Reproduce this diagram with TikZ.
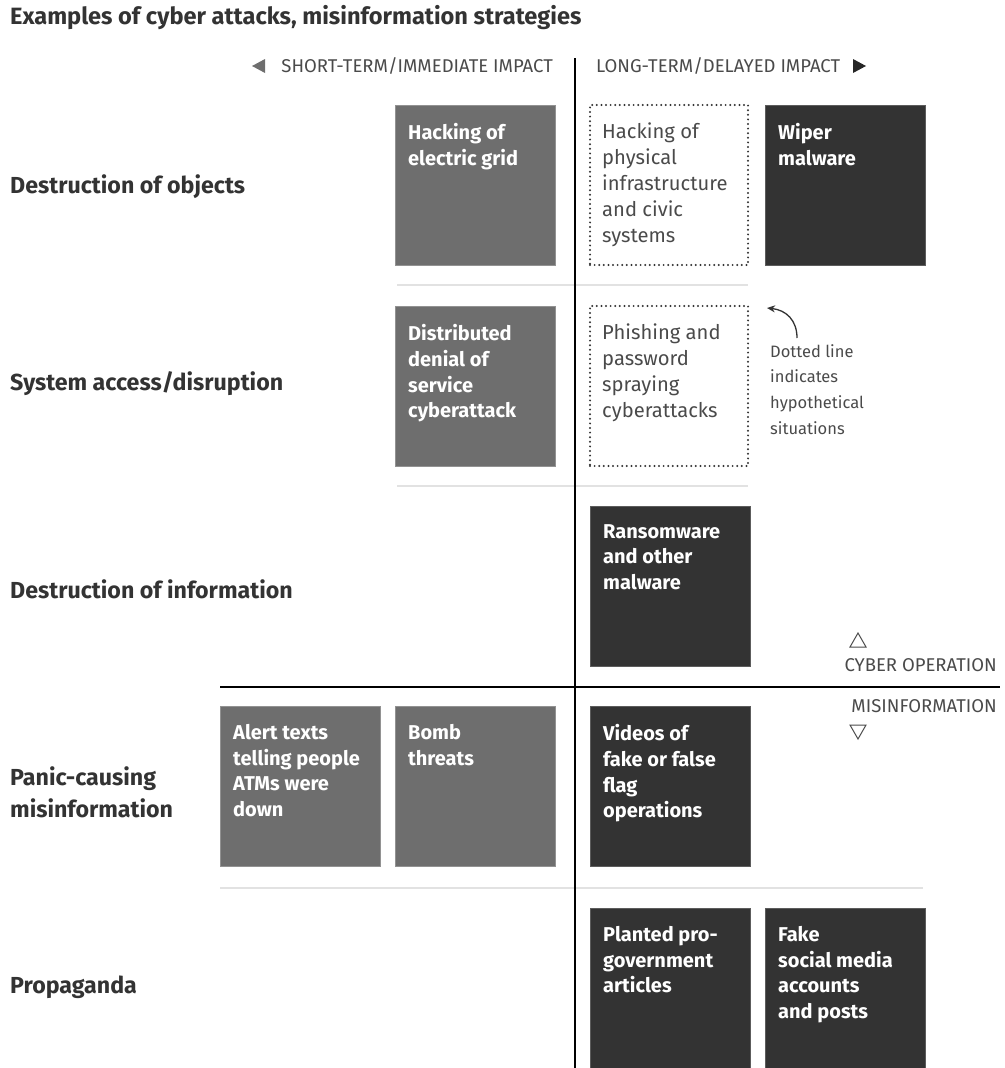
\documentclass[tikz,border=0pt]{standalone}
\usepackage{fontspec}
\setmainfont{Fira Sans}
\usetikzlibrary{arrows.meta}
\definecolor{midg}{HTML}{6E6E6E}
\definecolor{darkg}{HTML}{333333}
\definecolor{txt}{HTML}{333333}
\definecolor{lbl}{HTML}{4A4A4A}
\definecolor{sep}{HTML}{E2E2E2}
\tikzset{
  cell/.style={anchor=north west, minimum width=160pt, minimum height=160pt, inner sep=0pt, outer sep=0pt},
  midbox/.style={cell, fill=midg, draw=midg!75!white, line width=0.8pt},
  darkbox/.style={cell, fill=darkg, draw=darkg!80!white, line width=0.8pt},
  dotbox/.style={cell, minimum width=158pt, draw=darkg, line width=2.2pt, line cap=round, dash pattern=on 0pt off 4.6pt},
  boxtext/.style={anchor=north west, inner sep=0pt, align=left, font=\fontsize{20}{25.8}\selectfont\bfseries, text=white},
  hyptext/.style={anchor=north west, inner sep=0pt, align=left, font=\fontsize{20.2}{25.8}\selectfont, text=lbl},
  rowlbl/.style={anchor=west, inner sep=0pt, align=left, font=\fontsize{23.2}{32}\selectfont\bfseries, text=txt},
  hdr/.style={inner sep=0pt, font=\fontsize{18.5}{20}\selectfont, text=lbl},
  sepline/.style={draw=sep, line width=1.2pt},
  axis/.style={draw=black, line width=2.4pt}
}
\begin{document}
\begin{tikzpicture}[x=1pt,y=-1pt]
\useasboundingbox (0,0) rectangle (1004,1068);
% title
\node[anchor=west, inner sep=0pt, font=\fontsize{23.6}{26}\selectfont\bfseries, text=txt] (title) at (10,18) {Examples of cyber attacks, misinformation strategies};
% headers
\node[hdr, anchor=east] (short) at (553,66) {SHORT-TERM/IMMEDIATE IMPACT};
\node[hdr, anchor=west] (long) at (596,66) {LONG-TERM/DELAYED IMPACT};
\fill[midg] (252,66) -- (265,59) -- (265,73) -- cycle;
\fill[black!85] (866,66) -- (853,59) -- (853,73) -- cycle;
% separators
\draw[sepline] (397,285) -- (748,285);
\draw[sepline] (397,486) -- (748,486);
\draw[sepline] (220,888) -- (923,888);
% row labels
\node[rowlbl] (r1) at (10,187) {Destruction of objects};
\node[rowlbl] (r2) at (10,384) {System access/disruption};
\node[rowlbl] (r3) at (10,589) {Destruction of information};
\node[rowlbl] (r4) at (10,792) {Panic-causing\\misinformation};
\node[rowlbl] (r5) at (10,987) {Propaganda};
% row 1
\node[midbox] (b1) at (395,105) {};
\node[boxtext] (b1t) at ([xshift=13pt,yshift=-18pt]b1.north west) {Hacking of\\electric grid};
\node[dotbox] (c1) at (590,105) {};
\node[hyptext] (c1t) at ([xshift=12pt,yshift=-18pt]c1.north west) {Hacking of\\physical\\infrastructure\\and civic\\systems};
\node[darkbox] (d1) at (765,105) {};
\node[boxtext] (d1t) at ([xshift=13pt,yshift=-18pt]d1.north west) {Wiper\\malware};
% row 2
\node[midbox] (b2) at (395,306) {};
\node[boxtext] (b2t) at ([xshift=13pt,yshift=-18pt]b2.north west) {Distributed\\denial of\\service\\cyberattack};
\node[dotbox] (c2) at (590,306) {};
\node[hyptext] (c2t) at ([xshift=12pt,yshift=-18pt]c2.north west) {Phishing and\\password\\spraying\\cyberattacks};
% note
\node[hyptext, font=\fontsize{16.5}{25.8}\selectfont] (note) at (770,344) {Dotted line\\indicates\\hypothetical\\situations};
\coordinate (noteS) at (797,338);
\coordinate (noteE) at (767,308);
\draw[darkg, line width=1.3pt, -{Stealth[length=8pt,width=7pt]}] (noteS) .. controls (797,320) and (786,310) .. (noteE);
% row 3
\node[darkbox] (c3) at (590,506) {};
\node[boxtext] (c3t) at ([xshift=13pt,yshift=-18pt]c3.north west) {Ransomware\\and other\\malware};
% cyber / misinformation
\draw[lbl, line width=1pt] (850,647) -- (866,647) -- (858,633) -- cycle;
\node[hdr, anchor=east] (cyber) at (997,665) {CYBER OPERATION};
\node[hdr, anchor=east] (misinf) at (997,706) {MISINFORMATION};
\draw[lbl, line width=1pt] (850,725) -- (866,725) -- (858,739) -- cycle;
% row 4
\node[midbox] (a4) at (220,706) {};
\node[boxtext] (a4t) at ([xshift=13pt,yshift=-18pt]a4.north west) {Alert texts\\telling people\\ATMs were\\down};
\node[midbox] (b4) at (395,706) {};
\node[boxtext] (b4t) at ([xshift=13pt,yshift=-18pt]b4.north west) {Bomb\\threats};
\node[darkbox] (c4) at (590,706) {};
\node[boxtext] (c4t) at ([xshift=13pt,yshift=-18pt]c4.north west) {Videos of\\fake or false\\flag\\operations};
% row 5
\node[darkbox] (c5) at (590,908) {};
\node[boxtext] (c5t) at ([xshift=13pt,yshift=-18pt]c5.north west) {Planted pro-\\government\\articles};
\node[darkbox] (d5) at (765,908) {};
\node[boxtext] (d5t) at ([xshift=13pt,yshift=-18pt]d5.north west) {Fake\\social media\\accounts\\and posts};
% axes
\coordinate (vtop) at (575,58);
\coordinate (vbot) at (575,1068);
\coordinate (hl) at (220,687);
\coordinate (hr) at (1000,687);
\draw[axis] (vtop) -- (vbot);
\draw[axis] (hl) -- (hr);
\end{tikzpicture}
\end{document}
